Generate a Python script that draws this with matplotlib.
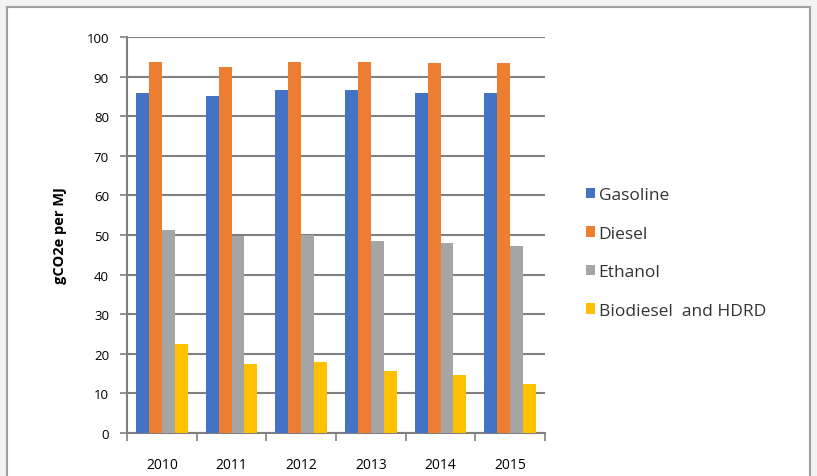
import numpy as np
import matplotlib.pyplot as plt
from matplotlib.patches import Rectangle

years = ['2010', '2011', '2012', '2013', '2014', '2015']
gasoline = [85.8, 85.2, 86.6, 86.6, 85.8, 85.8]
diesel = [93.6, 92.5, 93.6, 93.6, 93.5, 93.5]
ethanol = [51.3, 49.8, 50.0, 48.6, 48.0, 47.3]
biodiesel = [22.5, 17.4, 18.0, 15.7, 14.7, 12.4]

series = [gasoline, diesel, ethanol, biodiesel]
names = ['Gasoline', 'Diesel', 'Ethanol', 'Biodiesel  and HDRD']
colors = ['#4472c4', '#ed7d31', '#a5a5a5', '#ffc000']

plt.rcParams['font.family'] = ['Open Sans', 'DejaVu Sans']

fig = plt.figure(figsize=(8.17, 4.77), dpi=100)
fig.patch.set_facecolor('#f3f3f3')
fig.patches.append(Rectangle((7 / 817, -0.05), 803 / 817, 1 - 8 / 477 + 0.05,
                             transform=fig.transFigure, facecolor='white',
                             edgecolor='#a0a0a0', linewidth=1.5, zorder=-1))

ax = fig.add_axes([127 / 817, 1 - 434 / 477, 418 / 817, 396 / 477])
ax.set_zorder(2)
ax.set_facecolor('none')

x = np.arange(len(years))
w = 0.185
for i, (vals, name, c) in enumerate(zip(series, names, colors)):
    ax.bar(x + (i - 1.5) * w, vals, w, color=c, label=name, zorder=3)

ax.set_xlim(-0.5, len(years) - 0.5)
ax.set_ylim(0, 100)
ax.set_yticks(range(0, 101, 10))
ax.set_yticklabels([str(v) for v in range(0, 101, 10)], fontsize=9.5)
ax.set_xticks(x)
ax.set_xticklabels(years, fontsize=10)
ax.tick_params(axis='x', length=0, pad=17)
ax.set_xticks(np.arange(-0.5, len(years), 1), minor=True)
ax.tick_params(axis='x', which='minor', length=6, color='#808080', width=1.2)
ax.tick_params(axis='y', length=5, color='#808080', width=1.2, pad=8)

ax.grid(axis='y', color='#808080', linewidth=1.5, zorder=0)
for s in ['top', 'right']:
    ax.spines[s].set_visible(False)
for s in ['left', 'bottom']:
    ax.spines[s].set_color('#808080')
    ax.spines[s].set_linewidth(1.5)

ax.set_ylabel('gCO2e per MJ', fontsize=10.5, fontweight='bold', labelpad=14)

ax.legend(loc='center left', bbox_to_anchor=(1.06, 0.455), frameon=False,
          fontsize=12.5, handlelength=0.55, handleheight=0.55, handletextpad=0.2,
          labelspacing=1.3, labelcolor='#333333')

fig.savefig('out.png', dpi=100, facecolor=fig.get_facecolor())
